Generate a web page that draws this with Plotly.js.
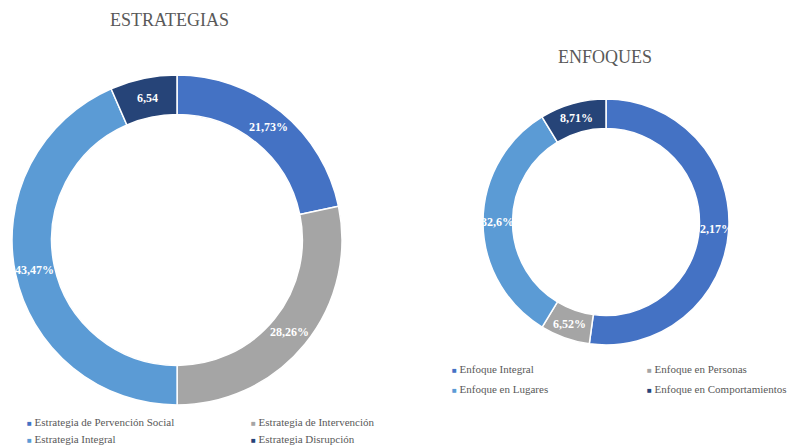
<!DOCTYPE html>
<html>
<head>
<meta charset="utf-8">
<script src="https://cdn.plot.ly/plotly-3.0.1.min.js"></script>
<style>
  body { margin: 0; background: #fff; }
  #plot { width: 800px; height: 445px; }
</style>
</head>
<body>
<div id="plot"></div>
<script>
// data
let estrategiaLabels = ["Estrategia de Pervención Social", "Estrategia de Intervención", "Estrategia Integral", "Estrategia Disrupción"]
let estrategiaValues = [21.73, 28.26, 43.47, 6.54]
let estrategiaText = ["21,73%", "28,26%", "43,47%", "6,54"]

let enfoqueLabels = ["Enfoque Integral", "Enfoque en Personas", "Enfoque en Lugares", "Enfoque en Comportamientos"]
let enfoqueValues = [52.17, 6.52, 32.6, 8.71]
let enfoqueText = ["52,17%", "6,52%", "32,6%", "8,71%"]

// office palette
let colors = ["#4472C4", "#A5A5A5", "#5B9BD5", "#264478"]

let serif = "Liberation Serif, Times New Roman, serif"
let grey = "#595959"
let W = 800, H = 445
let hole = 0.76

let leftDomain = { x: [0.015, 0.4275], y: [0.0899, 0.8315] }
let rightDomain = { x: [0.60375, 0.91125], y: [0.2247, 0.7775] }

function donut(labels, values, text, domain) {
    return {
        type: "pie",
        labels: labels,
        values: values,
        text: text,
        textinfo: "none",
        hole: hole,
        sort: false,
        direction: "clockwise",
        rotation: 0,
        marker: { colors: colors, line: { color: "#ffffff", width: 1.5 } },
        domain: domain,
        showlegend: false,
        hoverinfo: "label+text"
    }
}

let data = [
    donut(estrategiaLabels, estrategiaValues, estrategiaText, leftDomain),
    donut(enfoqueLabels, enfoqueValues, enfoqueText, rightDomain)
]

// titles
let annotations = [
    { text: "ESTRATEGIAS", x: 169 / W, y: 1 - 20 / H },
    { text: "ENFOQUES", x: 605 / W, y: 1 - 57 / H }
].map(a => Object.assign(a, {
    xref: "paper", yref: "paper", showarrow: false,
    xanchor: "center", yanchor: "middle",
    font: { family: serif, size: 18, color: grey }
}))

// data labels, centred on each slice at mid-ring (like the office chart does)
function sliceLabels(values, text, domain) {
    let cx = (domain.x[0] + domain.x[1]) / 2 * W
    let cy = (domain.y[0] + domain.y[1]) / 2 * H
    let R = Math.min((domain.x[1] - domain.x[0]) * W, (domain.y[1] - domain.y[0]) * H) / 2
    let rMid = R * (1 + hole) / 2
    let total = values.reduce((a, b) => a + b, 0)
    let cum = 0
    values.forEach((v, i) => {
        let ang = (cum + v / 2) / total * 2 * Math.PI
        cum += v
        annotations.push({
            text: "<b>" + text[i] + "</b>",
            xref: "paper", yref: "paper", showarrow: false,
            x: (cx + rMid * Math.sin(ang)) / W,
            y: (cy + rMid * Math.cos(ang)) / H,
            xanchor: "center", yanchor: "middle",
            font: { family: serif, size: 12, color: "#ffffff" }
        })
    })
}
sliceLabels(estrategiaValues, estrategiaText, leftDomain)
sliceLabels(enfoqueValues, enfoqueText, rightDomain)

// two-column legends drawn as text rows
function legendRows(labels, cols, rows) {
    labels.forEach((lab, i) => {
        annotations.push({
            text: '<span style="color:' + colors[i] + ';font-size:8px">■</span> ' + lab,
            xref: "paper", yref: "paper", showarrow: false,
            x: cols[i % 2] / W, y: 1 - rows[Math.floor(i / 2)] / H,
            xanchor: "left", yanchor: "middle",
            font: { family: serif, size: 11, color: grey }
        })
    })
}
legendRows(estrategiaLabels, [25, 249], [422, 439])
legendRows(enfoqueLabels, [450, 645], [369, 389])

let layout = {
    width: W,
    height: H,
    margin: { l: 0, r: 0, t: 0, b: 0 },
    paper_bgcolor: "#ffffff",
    annotations: annotations
}

Plotly.newPlot("plot", data, layout, { displayModeBar: false, staticPlot: true })
</script>
</body>
</html>
